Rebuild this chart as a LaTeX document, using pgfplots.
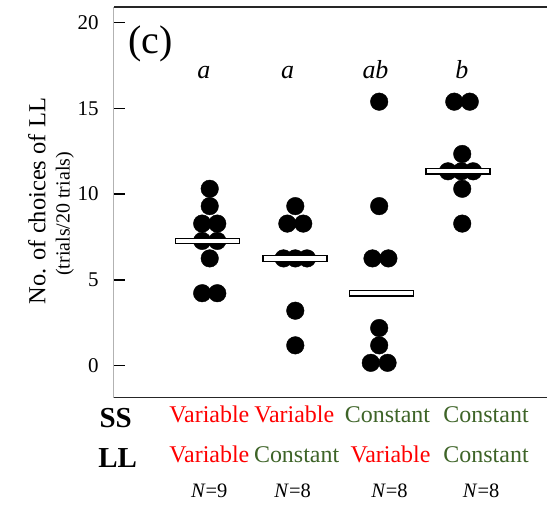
\documentclass[border=0pt]{standalone}
\usepackage{fontspec}
\setmainfont{Liberation Serif}
\usepackage{pgfplots}
\pgfplotsset{compat=1.18}
\definecolor{varred}{RGB}{255,0,0}
\definecolor{congreen}{RGB}{62,100,40}
\newcommand{\fs}[1]{\fontsize{#1}{1.2\dimexpr#1\relax}\selectfont}

% median bar: white box with black edge
\pgfdeclareplotmark{medbar}{%
  \pgfpathrectangle{\pgfqpoint{-32bp}{-2.7bp}}{\pgfqpoint{64bp}{5.4bp}}%
  \pgfusepathqfillstroke}

\begin{document}
\begin{tikzpicture}
\begin{axis}[
    scale only axis,
    width=434bp, height=391bp,
    xmin=-0.1429, xmax=5.024,
    ymin=-1.864, ymax=20.91,
    clip=false,
    axis line style={draw=none},
    xtick=\empty,
    ytick={0,5,10,15,20},
    ytick pos=left,
    tick align=inside,
    major tick length=11bp,
    ytick style={black, line width=1.6bp},
    /pgf/number format/assume math mode=true,
    yticklabel style={font=\fs{21bp}, anchor=east, inner sep=0pt, xshift=-15bp},
]
% invisible frame that fixes the page size
\path (axis cs:-1.5,-8.27) rectangle (axis cs:5.024,21.32);

\draw[gray!60, line width=0.8bp] (rel axis cs:0,0) -- (rel axis cs:0,1);
\draw[black!85, line width=1.4bp] (rel axis cs:0,1) -- (rel axis cs:1,1);
\draw[black!85, line width=1.4bp] (rel axis cs:0,0) -- (rel axis cs:1,0);

% individual birds (choices of LL, plotted as read off)
\addplot[only marks, mark=*, mark size=8.8bp, black] coordinates {
    (1,10.31) (1,9.3) (0.91,8.28) (1.09,8.28) (0.91,7.27) (1.09,7.27)
    (1,6.25) (0.91,4.22) (1.09,4.22)
};
\addplot[only marks, mark=*, mark size=8.8bp, black] coordinates {
    (2.02,9.3) (1.925,8.28) (2.115,8.28) (1.88,6.25) (2.02,6.25) (2.16,6.25)
    (2.02,3.2) (2.02,1.18)
};
\addplot[only marks, mark=*, mark size=8.8bp, black] coordinates {
    (3.02,15.39) (3.02,9.3) (2.94,6.25) (3.13,6.25) (3.02,2.19) (3.02,1.18)
    (2.92,0.16) (3.12,0.16)
};
\addplot[only marks, mark=*, mark size=8.8bp, black] coordinates {
    (3.915,15.39) (4.1,15.39) (4.01,12.34) (3.84,11.33) (4.0,11.33) (4.14,11.33)
    (4.01,10.31) (4.01,8.28)
};
% medians
\addplot[only marks, mark=medbar, mark options={fill=white, draw=black, line width=1.2bp}] coordinates {
    (0.976,7.27) (2.017,6.25) (3.045,4.22) (3.96,11.33)
};

% panel letter and significance letters
\node[font=\fs{40bp}] at (axis cs:0.294,18.75) {(c)};
\node[font=\fs{26bp}\itshape, anchor=base] at (axis cs:0.929,16.77) {a};
\node[font=\fs{26bp}\itshape, anchor=base] at (axis cs:1.929,16.77) {a};
\node[font=\fs{26bp}\itshape, anchor=base] at (axis cs:2.976,16.77) {ab};
\node[font=\fs{26bp}\itshape, anchor=base] at (axis cs:4.006,16.77) {b};

% y label
\node[font=\fs{24.5bp}, rotate=90] at (axis cs:-1.06,9.58) {No. of choices of LL};
\node[font=\fs{20bp}, rotate=90] at (axis cs:-0.726,8.85) {(trials/20 trials)};

% condition rows
\node[font=\fs{29bp}\bfseries, anchor=base] at (axis cs:-0.121,-3.61) {SS};
\node[font=\fs{29bp}\bfseries, anchor=base] at (axis cs:-0.098,-5.94) {LL};
\node[font=\fs{24bp}, text=varred, anchor=base] at (axis cs:0.996,-3.34) {Variable};
\node[font=\fs{24bp}, text=varred, anchor=base] at (axis cs:2.008,-3.34) {Variable};
\node[font=\fs{24bp}, text=congreen, anchor=base] at (axis cs:3.119,-3.34) {Constant};
\node[font=\fs{24bp}, text=congreen, anchor=base] at (axis cs:4.294,-3.34) {Constant};
\node[font=\fs{24bp}, text=varred, anchor=base] at (axis cs:0.996,-5.67) {Variable};
\node[font=\fs{24bp}, text=congreen, anchor=base] at (axis cs:2.036,-5.67) {Constant};
\node[font=\fs{24bp}, text=varred, anchor=base] at (axis cs:3.155,-5.67) {Variable};
\node[font=\fs{24bp}, text=congreen, anchor=base] at (axis cs:4.294,-5.67) {Constant};
\node[font=\fs{20.5bp}, anchor=base] at (axis cs:0.994,-7.69) {\textit{N}=9};
\node[font=\fs{20.5bp}, anchor=base] at (axis cs:1.988,-7.69) {\textit{N}=8};
\node[font=\fs{20.5bp}, anchor=base] at (axis cs:3.143,-7.69) {\textit{N}=8};
\node[font=\fs{20.5bp}, anchor=base] at (axis cs:4.235,-7.69) {\textit{N}=8};
\end{axis}
\end{tikzpicture}
\end{document}
